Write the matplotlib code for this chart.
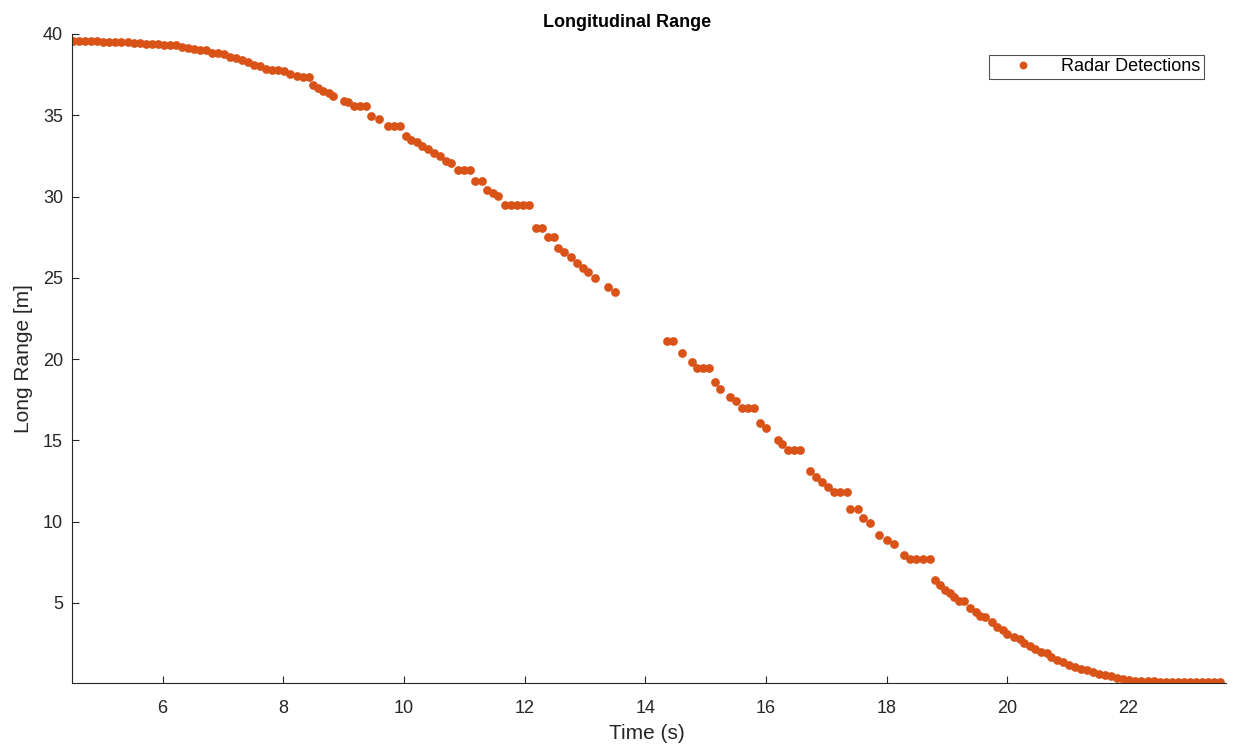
import matplotlib
matplotlib.use("Agg")
import matplotlib.pyplot as plt

# radar detections, first track section (before dropout)
t1 = [4.52, 4.62, 4.72, 4.82, 4.92, 5.02, 5.12, 5.22, 5.32, 5.42,
      5.52, 5.62, 5.72, 5.82, 5.92, 6.02, 6.12, 6.22, 6.32, 6.42,
      6.52, 6.62, 6.72, 6.82, 6.92, 7.02, 7.12, 7.22, 7.32, 7.42,
      7.52, 7.62, 7.72, 7.82, 7.92, 8.02, 8.12, 8.22, 8.32, 8.42,
      8.50, 8.58, 8.66, 8.75, 8.83, 9.00, 9.07, 9.17, 9.27, 9.37,
      9.46, 9.58, 9.74, 9.84, 9.94, 10.03, 10.12, 10.22, 10.30, 10.40,
      10.50, 10.60, 10.70, 10.78, 10.90, 11.00, 11.10, 11.18, 11.30, 11.38,
      11.47, 11.56, 11.68, 11.78, 11.88, 11.98, 12.08, 12.18, 12.28, 12.38,
      12.48, 12.56, 12.66, 12.76, 12.87, 12.97, 13.05, 13.17, 13.38, 13.50]
r1 = [39.55, 39.55, 39.55, 39.55, 39.55, 39.50, 39.50, 39.50, 39.50, 39.50,
      39.45, 39.45, 39.40, 39.40, 39.40, 39.35, 39.30, 39.30, 39.20, 39.15,
      39.10, 39.00, 39.00, 38.85, 38.80, 38.75, 38.60, 38.55, 38.40, 38.30,
      38.10, 38.00, 37.85, 37.80, 37.80, 37.70, 37.55, 37.40, 37.35, 37.35,
      36.85, 36.70, 36.50, 36.35, 36.20, 35.90, 35.80, 35.55, 35.55, 35.55,
      34.95, 34.80, 34.35, 34.35, 34.35, 33.70, 33.50, 33.35, 33.10, 32.90,
      32.70, 32.50, 32.20, 32.05, 31.65, 31.65, 31.65, 30.95, 30.95, 30.40,
      30.20, 30.05, 29.45, 29.45, 29.45, 29.45, 29.45, 28.05, 28.05, 27.50,
      27.50, 26.85, 26.60, 26.30, 25.90, 25.60, 25.35, 25.00, 24.45, 24.10]

# second section (after dropout)
t2 = [14.36, 14.46, 14.60, 14.78, 14.86, 14.96, 15.06, 15.16, 15.24, 15.41,
      15.50, 15.60, 15.70, 15.80, 15.90, 16.00, 16.19, 16.27, 16.36, 16.46,
      16.56, 16.73, 16.82, 16.92, 17.02, 17.12, 17.23, 17.34, 17.39, 17.52,
      17.60, 17.72, 17.87, 18.00, 18.12, 18.28, 18.38, 18.49, 18.60, 18.72,
      18.80, 18.88, 18.96, 19.04, 19.12, 19.20, 19.28, 19.38, 19.47, 19.55,
      19.63, 19.74, 19.83, 19.92, 20.00, 20.10, 20.20, 20.28, 20.37, 20.46,
      20.56, 20.65, 20.72, 20.82, 20.92, 21.02, 21.12, 21.22, 21.32, 21.42,
      21.52, 21.62, 21.72, 21.82, 21.92, 22.02, 22.12, 22.22, 22.32, 22.42,
      22.52, 22.62, 22.72, 22.82, 22.92, 23.02, 23.12, 23.22, 23.32, 23.42,
      23.52]
r2 = [21.10, 21.10, 20.40, 19.80, 19.45, 19.45, 19.45, 18.60, 18.15, 17.70,
      17.45, 17.00, 17.00, 17.00, 16.10, 15.75, 15.05, 14.75, 14.40, 14.40,
      14.40, 13.10, 12.75, 12.45, 12.15, 11.85, 11.85, 11.85, 10.80, 10.80,
      10.25, 9.90, 9.20, 8.90, 8.65, 7.95, 7.70, 7.70, 7.70, 7.70,
      6.40, 6.10, 5.80, 5.60, 5.35, 5.15, 5.10, 4.70, 4.45, 4.20,
      4.15, 3.80, 3.55, 3.35, 3.10, 2.90, 2.80, 2.55, 2.35, 2.15,
      2.00, 1.95, 1.70, 1.50, 1.35, 1.20, 1.05, 0.95, 0.85, 0.75,
      0.65, 0.55, 0.50, 0.40, 0.30, 0.25, 0.22, 0.20, 0.18, 0.18,
      0.17, 0.17, 0.16, 0.16, 0.16, 0.16, 0.16, 0.16, 0.16, 0.16,
      0.16]

xticks = [6, 8, 10, 12, 14, 16, 18, 20, 22]
yticks = [5, 10, 15, 20, 25, 30, 35, 40]

orange = (0.85, 0.325, 0.098)
grey = "#262626"

plt.rcParams["font.family"] = ["Liberation Sans", "DejaVu Sans"]

fig = plt.figure(figsize=(12.33, 7.55), dpi=100)
ax = fig.add_axes([0.0584, 0.0954, 0.9359, 0.8596])

ax.plot(t1 + t2, r1 + r2, "o", color=orange, markersize=6.3,
        markeredgewidth=0, linestyle="none", label="Radar Detections")

ax.set_xlim(4.5, 23.62)
ax.set_ylim(0.08, 40)
ax.set_xticks(xticks)
ax.set_yticks(yticks)
ax.tick_params(direction="in", length=5, width=0.8, colors=grey,
               labelsize=13)
ax.tick_params(axis="x", pad=12)
ax.tick_params(axis="y", pad=6.5)
for s in ["top", "right"]:
    ax.spines[s].set_visible(False)
for s in ["left", "bottom"]:
    ax.spines[s].set_color(grey)
    ax.spines[s].set_linewidth(0.8)

ax.set_title("Longitudinal Range", fontsize=13, fontweight="bold",
             color="black", x=0.481, pad=5)
ax.set_xlabel("Time (s)", fontsize=15, color=grey)
ax.xaxis.set_label_coords(0.498, -0.063)
ax.set_ylabel("Long Range [m]", fontsize=15, color=grey)
ax.yaxis.set_label_coords(-0.034, 0.5)

leg = ax.legend(loc="upper right", bbox_to_anchor=(0.981, 0.968),
                borderaxespad=0, fontsize=13, frameon=True, fancybox=False,
                handlelength=3.4, handletextpad=0.4, borderpad=0.2,
                markerscale=0.9)
leg.get_frame().set_edgecolor(grey)
leg.get_frame().set_linewidth(0.8)

fig.savefig("out.png", dpi=100)
